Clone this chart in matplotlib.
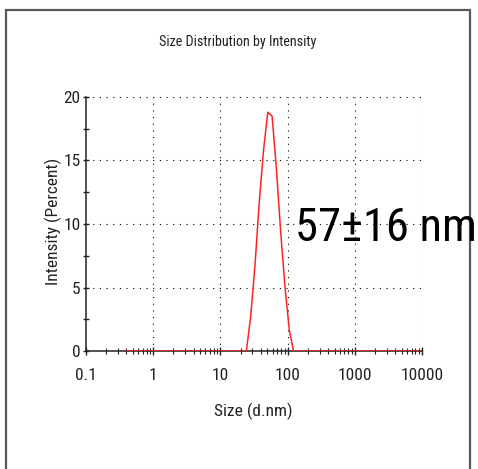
import matplotlib

matplotlib.use("Agg")
import matplotlib.pyplot as plt
from matplotlib.patches import Rectangle
from matplotlib.ticker import FixedLocator, NullFormatter, FixedFormatter

# Size distribution by intensity (DLS)
sizes = [0.4, 21.04, 24.36, 28.21, 32.67, 37.84, 43.82, 50.75, 58.77,
         68.06, 78.82, 91.28, 105.7, 122.4, 141.8, 10000]
intensity = [0, 0, 0, 2.7, 6.7, 11.7, 15.8, 18.8, 18.5,
             14.4, 9.4, 5.1, 1.7, 0, 0, 0]
x_ticks = [0.1, 1, 10, 100, 1000, 10000]
x_labels = ["0.1", "1", "10", "100", "1000", "10000"]
y_ticks = [0, 5, 10, 15, 20]
note = "57\u00b116 nm"

plt.rcParams["font.family"] = ["Roboto Condensed", "DejaVu Sans"]

fig = plt.figure(figsize=(4.78, 4.69), dpi=100)
ax = fig.add_axes([86 / 478, 1 - 351 / 469, 336 / 478, 254 / 469])

# dotted grid, only inside the plot box
dots = (0, (1, 5))
for v in y_ticks[1:]:
    ax.plot([0.1, 10000], [v, v], color="black", lw=0.8, ls=dots, zorder=1)
for v in x_ticks[1:]:
    ax.plot([v, v], [0, 20], color="black", lw=0.8, ls=dots, zorder=1)

ax.plot(sizes, intensity, color="#ff2424", lw=1.1, zorder=3)

ax.set_xscale("log")
ax.set_xlim(0.1, 10000)
ax.set_ylim(0, 20)
for s in ("top", "right"):
    ax.spines[s].set_visible(False)
for s in ("left", "bottom"):
    ax.spines[s].set_linewidth(1.1)
    ax.spines[s].set_color("#222222")

ax.xaxis.set_major_locator(FixedLocator(x_ticks))
ax.xaxis.set_major_formatter(FixedFormatter(x_labels))
minors = [m * 10.0 ** e for e in range(-1, 4) for m in range(2, 10)]
ax.xaxis.set_minor_locator(FixedLocator(minors))
ax.xaxis.set_minor_formatter(NullFormatter())
ax.set_yticks(y_ticks)
ax.yaxis.set_minor_locator(FixedLocator([2.5, 7.5, 12.5, 17.5]))

ax.tick_params(axis="x", which="major", direction="inout", length=6, width=1,
               pad=9, labelsize=12.5, colors="#222222")
ax.tick_params(axis="x", which="minor", direction="inout", length=4, width=0.8,
               colors="#222222")
ax.tick_params(axis="y", which="both", direction="inout", length=4.5, width=1,
               pad=1.5, labelsize=12.5, colors="#222222")

fig.text(0.498, 0.910, "Size Distribution by Intensity", ha="center", va="center",
         fontsize=10.2, color="#222222")
fig.text(0.529, 0.122, "Size (d.nm)", ha="center", va="center",
         fontsize=12.5, color="#222222")
fig.text(0.111, 0.528, "Intensity (Percent)", ha="center", va="center",
         rotation=90, fontsize=12.5, color="#222222")
fig.text(295 / 478, 1 - 228 / 469, note, ha="left", va="center",
         fontsize=33.5, color="black")

fig.add_artist(Rectangle((6 / 478, -0.1), 464 / 478, 1.1 - 10 / 469, fill=False,
                         edgecolor="#5a5a5a", lw=1.6, transform=fig.transFigure))

fig.savefig("out.png", dpi=100)
